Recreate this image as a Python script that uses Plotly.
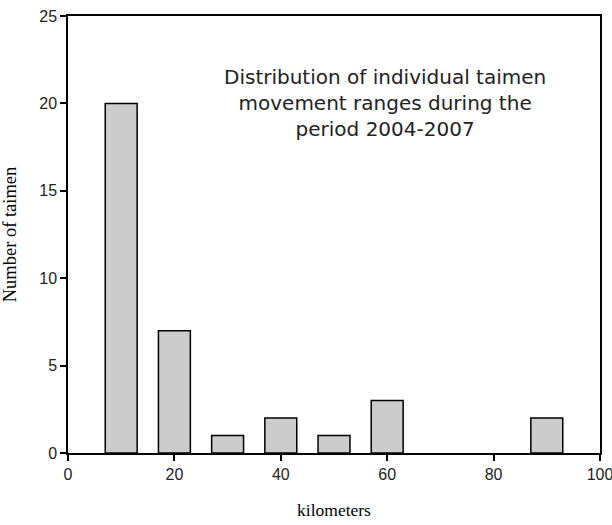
import plotly.graph_objects as go

km = [10, 20, 30, 40, 50, 60, 90]
counts = [20, 7, 1, 2, 1, 3, 2]
x_ticks = [0, 20, 40, 60, 80, 100]
y_ticks = [0, 5, 10, 15, 20, 25]

fig = go.Figure()
fig.add_trace(go.Bar(
    x=km, y=counts, width=6,
    marker=dict(color="#cccccc", line=dict(color="black", width=1.5)),
))
fig.add_annotation(
    x=0.596, y=0.80, xref="paper", yref="paper", showarrow=False,
    text="Distribution of individual taimen<br>movement ranges during the<br>period 2004-2007",
    font=dict(family="DejaVu Sans, sans-serif", size=20, color="#222"),
    align="center", xanchor="center", yanchor="middle",
)
axis_common = dict(
    showgrid=False, zeroline=False, showline=True, linecolor="black", linewidth=1.5,
    ticks="outside", ticklen=6, tickcolor="black", tickwidth=1.5, mirror=True,
    automargin=False, ticklabeloverflow="allow",
    tickfont=dict(family="Liberation Sans Narrow, Arial Narrow, sans-serif", size=16, color="#222"),
)
fig.update_xaxes(range=[0, 100], tickvals=x_ticks, **axis_common,
                 title=dict(text="kilometers", font=dict(family="Liberation Serif, serif", size=17.5, color="black"), standoff=22))
fig.update_yaxes(range=[0, 25], tickvals=y_ticks, **axis_common,
                 title=dict(text="Number of taimen", font=dict(family="Liberation Serif, serif", size=18.5, color="black"), standoff=21))
fig.update_layout(
    width=612, height=525, margin=dict(l=68, r=12, t=16, b=72),
    plot_bgcolor="white", paper_bgcolor="white", showlegend=False,
)
fig.write_html("out.html", config={"displayModeBar": False},
               post_script="document.body.style.margin='0';")
